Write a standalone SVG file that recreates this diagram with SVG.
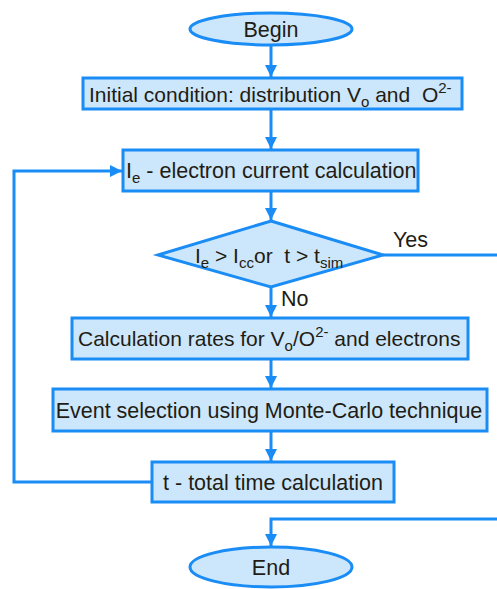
<svg xmlns="http://www.w3.org/2000/svg" width="497" height="589" viewBox="0 0 497 589">
<style>
.n{fill:#cce7fb;stroke:#1a8cf5;stroke-width:3}
.c{fill:none;stroke:#1a8cf5;stroke-width:3}
text{font-family:"Liberation Sans",Arial,sans-serif;font-size:21.5px;fill:#221c14}
.m{text-anchor:middle}
.s{font-size:15px}
.k{font-size:21px}
</style>
<defs>
<marker id="a" viewBox="0 0 10 10" refX="10" refY="5" markerWidth="4.4" markerHeight="4" orient="auto" markerUnits="strokeWidth">
<path d="M0,0 L10,5 L0,10 z" fill="#1a8cf5"/>
</marker>
</defs>
<rect width="497" height="589" fill="#fff"/>
<g id="connectors">
<line class="c" x1="271" y1="45" x2="271" y2="77" marker-end="url(#a)"/>
<line class="c" x1="271" y1="109" x2="271" y2="149" marker-end="url(#a)"/>
<line class="c" x1="271" y1="191" x2="271" y2="220" marker-end="url(#a)"/>
<line class="c" x1="271" y1="287" x2="271" y2="317" marker-end="url(#a)"/>
<line class="c" x1="271" y1="359" x2="271" y2="388" marker-end="url(#a)"/>
<line class="c" x1="271" y1="431" x2="271" y2="461" marker-end="url(#a)"/>
<polyline class="c" points="152,482 14,482 14,171 122,171" marker-end="url(#a)"/>
<line class="c" x1="383" y1="255" x2="500" y2="255"/>
<polyline class="c" points="500,519 271,519 271,546" marker-end="url(#a)"/>
<text x="393" y="247">Yes</text>
<text x="281" y="306">No</text>
</g>
<g id="begin">
<ellipse class="n" cx="271" cy="29" rx="81" ry="16"/>
<text class="m" x="271" y="37">Begin</text>
</g>
<g id="init">
<rect class="n" x="83" y="78" width="379" height="31"/>
<text class="k" x="89" y="102">Initial condition: distribution V<tspan class="s" dy="5">o</tspan><tspan dy="-5"> and &#160;O</tspan><tspan class="s" dy="-9">2-</tspan></text>
</g>
<g id="ie">
<rect class="n" x="123" y="150" width="295" height="41"/>
<text x="126" y="178">I<tspan class="s" dy="5">e</tspan><tspan dy="-5"> - electron current calculation</tspan></text>
</g>
<g id="decision">
<polygon class="n" points="271,221 383,255 271,287 158,255"/>
<text class="k" x="195" y="263">I<tspan class="s" dy="5">e</tspan><tspan dy="-5"> &gt; I</tspan><tspan class="s" dy="5">cc</tspan><tspan dy="-5">or &#160;t &gt; t</tspan><tspan class="s" dy="5">sim</tspan></text>
</g>
<g id="rates">
<rect class="n" x="72" y="318" width="396" height="41"/>
<text class="k" x="78" y="346">Calculation rates for V<tspan class="s" dy="5">o</tspan><tspan dy="-5">/O</tspan><tspan class="s" dy="-9">2-</tspan><tspan dy="9"> and electrons</tspan></text>
</g>
<g id="event">
<rect class="n" x="53" y="389" width="434" height="42"/>
<text class="m" x="269" y="418">Event selection using Monte-Carlo technique</text>
</g>
<g id="ttime">
<rect class="n" x="152" y="462" width="242" height="40"/>
<text class="m" x="273" y="490">t - total time calculation</text>
</g>
<g id="end">
<ellipse class="n" cx="271" cy="567" rx="81" ry="20"/>
<text class="m" x="271" y="575">End</text>
</g>
</svg>
